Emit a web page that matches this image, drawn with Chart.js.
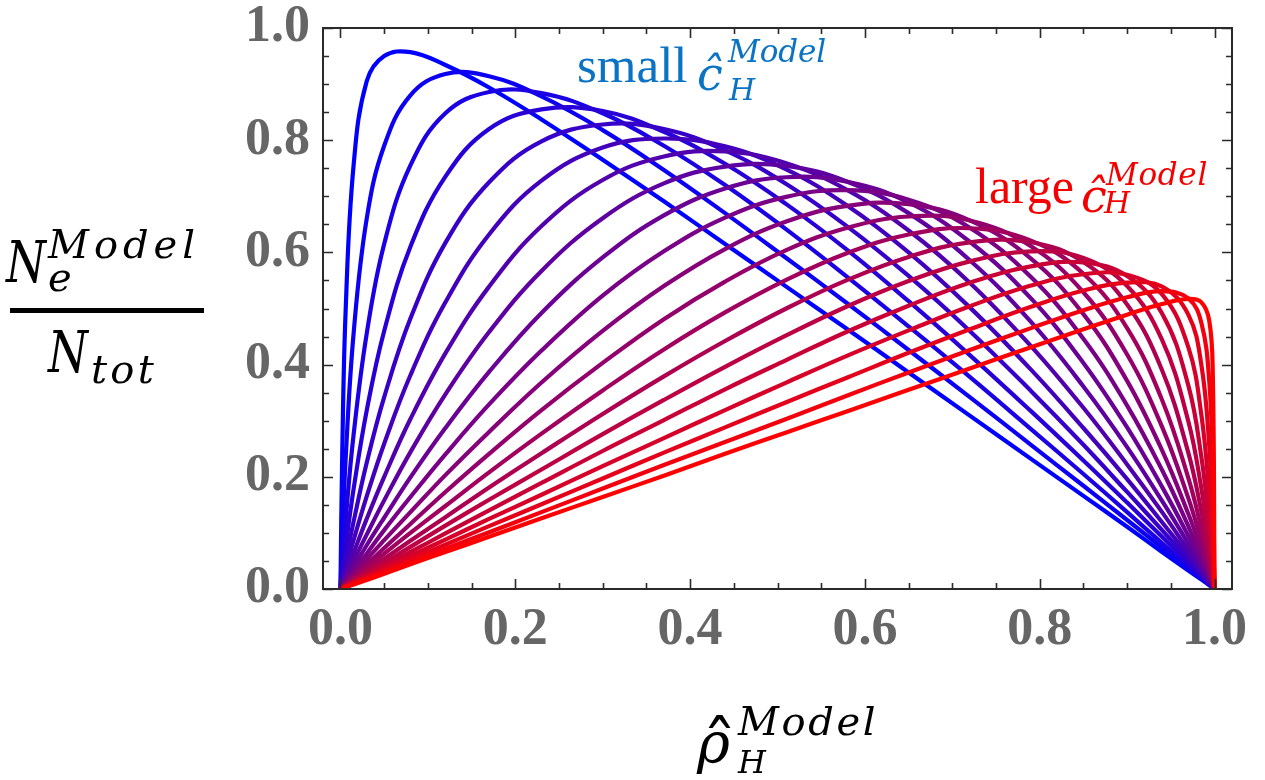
<!DOCTYPE html>
<html><head><meta charset="utf-8">
<script src="https://cdn.jsdelivr.net/npm/chart.js@4.4.1/dist/chart.umd.min.js"></script>
<style>html,body{margin:0;padding:0;background:#fff;overflow:hidden}</style>
</head><body>
<canvas id="c" width="1265" height="780" style="display:block;width:1265px;height:780px"></canvas>
<script>
// x values (rho_H^Model)
const rhoH = [0, 0.002, 0.006, 0.015, 0.03, 0.05, 0.08, 0.12, 0.17, 0.23, 0.3, 0.37, 0.44, 0.51, 0.58, 0.65, 0.72, 0.79, 0.85, 0.9, 0.94, 0.97, 0.985, 0.994, 0.998, 1];
// N_e^Model / N_tot, one array per c_H^Model value (small -> large)
const ne01 = [0, 0.240, 0.500, 0.755, 0.905, 0.950, 0.957, 0.934, 0.894, 0.837, 0.765, 0.691, 0.615, 0.539, 0.463, 0.386, 0.309, 0.232, 0.166, 0.111, 0.066, 0.033, 0.017, 0.007, 0.002, 0];
const ne02 = [0, 0.090, 0.235, 0.455, 0.660, 0.790, 0.880, 0.918, 0.914, 0.878, 0.818, 0.747, 0.670, 0.590, 0.509, 0.426, 0.342, 0.257, 0.184, 0.123, 0.074, 0.037, 0.018, 0.007, 0.002, 0];
const ne03 = [0, 0.045, 0.125, 0.275, 0.455, 0.615, 0.755, 0.848, 0.886, 0.884, 0.848, 0.790, 0.720, 0.641, 0.556, 0.468, 0.378, 0.285, 0.205, 0.137, 0.082, 0.041, 0.021, 0.008, 0.003, 0];
const ne04 = [0, 0.027, 0.077, 0.178, 0.318, 0.460, 0.610, 0.735, 0.820, 0.855, 0.852, 0.815, 0.758, 0.686, 0.604, 0.513, 0.417, 0.317, 0.229, 0.154, 0.093, 0.047, 0.023, 0.009, 0.003, 0];
const ne05 = [0, 0.017, 0.051, 0.120, 0.225, 0.342, 0.482, 0.617, 0.725, 0.798, 0.828, 0.820, 0.782, 0.722, 0.646, 0.558, 0.460, 0.353, 0.257, 0.173, 0.105, 0.053, 0.026, 0.011, 0.004, 0];
const ne06 = [0, 0.012, 0.036, 0.087, 0.165, 0.259, 0.381, 0.511, 0.632, 0.728, 0.787, 0.803, 0.789, 0.748, 0.683, 0.600, 0.502, 0.391, 0.287, 0.196, 0.119, 0.060, 0.030, 0.012, 0.004, 0];
const ne07 = [0, 0.009, 0.026, 0.064, 0.125, 0.200, 0.303, 0.420, 0.539, 0.647, 0.729, 0.771, 0.780, 0.759, 0.711, 0.639, 0.546, 0.433, 0.323, 0.222, 0.137, 0.069, 0.035, 0.014, 0.005, 0];
const ne08 = [0, 0.007, 0.020, 0.050, 0.097, 0.158, 0.244, 0.347, 0.458, 0.567, 0.661, 0.723, 0.753, 0.754, 0.726, 0.670, 0.586, 0.476, 0.361, 0.253, 0.157, 0.081, 0.041, 0.016, 0.006, 0];
const ne09 = [0, 0.005, 0.016, 0.039, 0.078, 0.127, 0.199, 0.287, 0.387, 0.492, 0.591, 0.666, 0.714, 0.734, 0.726, 0.689, 0.619, 0.518, 0.403, 0.288, 0.182, 0.095, 0.048, 0.019, 0.007, 0];
const ne10 = [0, 0.004, 0.013, 0.032, 0.063, 0.105, 0.164, 0.240, 0.329, 0.425, 0.523, 0.602, 0.662, 0.699, 0.711, 0.694, 0.644, 0.556, 0.446, 0.327, 0.212, 0.112, 0.057, 0.023, 0.008, 0];
const ne11 = [0, 0.004, 0.011, 0.026, 0.053, 0.087, 0.137, 0.203, 0.280, 0.368, 0.460, 0.540, 0.606, 0.655, 0.683, 0.686, 0.657, 0.589, 0.490, 0.371, 0.247, 0.134, 0.070, 0.029, 0.010, 0];
const ne12 = [0, 0.003, 0.009, 0.022, 0.044, 0.073, 0.116, 0.173, 0.241, 0.319, 0.403, 0.481, 0.548, 0.604, 0.644, 0.664, 0.657, 0.611, 0.529, 0.418, 0.289, 0.162, 0.086, 0.036, 0.012, 0];
const ne13 = [0, 0.003, 0.008, 0.019, 0.038, 0.063, 0.100, 0.148, 0.208, 0.277, 0.354, 0.427, 0.493, 0.551, 0.599, 0.632, 0.643, 0.621, 0.562, 0.465, 0.337, 0.198, 0.108, 0.046, 0.016, 0];
const ne14 = [0, 0.002, 0.007, 0.016, 0.033, 0.054, 0.086, 0.128, 0.181, 0.242, 0.312, 0.379, 0.442, 0.500, 0.551, 0.592, 0.618, 0.618, 0.583, 0.507, 0.390, 0.243, 0.138, 0.060, 0.021, 0];
const ne15 = [0, 0.002, 0.006, 0.014, 0.028, 0.047, 0.075, 0.113, 0.159, 0.213, 0.276, 0.337, 0.396, 0.452, 0.504, 0.549, 0.584, 0.602, 0.590, 0.540, 0.444, 0.299, 0.179, 0.081, 0.029, 0];
const ne16 = [0, 0.002, 0.005, 0.013, 0.025, 0.042, 0.066, 0.099, 0.140, 0.189, 0.246, 0.301, 0.356, 0.408, 0.459, 0.505, 0.546, 0.575, 0.582, 0.558, 0.491, 0.363, 0.235, 0.114, 0.042, 0];
const ne17 = [0, 0.002, 0.004, 0.011, 0.022, 0.037, 0.059, 0.088, 0.125, 0.168, 0.219, 0.269, 0.319, 0.368, 0.416, 0.461, 0.504, 0.541, 0.561, 0.560, 0.525, 0.431, 0.310, 0.167, 0.066, 0];
const ne18 = [0, 0.001, 0.004, 0.010, 0.020, 0.033, 0.053, 0.079, 0.112, 0.151, 0.197, 0.243, 0.288, 0.333, 0.377, 0.421, 0.463, 0.503, 0.532, 0.546, 0.539, 0.489, 0.399, 0.254, 0.114, 0];
const ne19 = [0, 0.001, 0.004, 0.009, 0.018, 0.030, 0.048, 0.072, 0.101, 0.137, 0.179, 0.221, 0.262, 0.303, 0.345, 0.386, 0.426, 0.465, 0.497, 0.520, 0.531, 0.518, 0.474, 0.370, 0.211, 0];
const ne20 = [0, 0.001, 0.003, 0.008, 0.016, 0.027, 0.044, 0.066, 0.093, 0.126, 0.164, 0.202, 0.241, 0.279, 0.317, 0.355, 0.393, 0.431, 0.463, 0.489, 0.508, 0.517, 0.511, 0.478, 0.386, 0];
const xTickValues = [0, 0.2, 0.4, 0.6, 0.8, 1.0];
const yTickValues = [0, 0.2, 0.4, 0.6, 0.8, 1.0];
const minorStep = 0.05;

const curveValues = [ne01, ne02, ne03, ne04, ne05, ne06, ne07, ne08, ne09, ne10,
                     ne11, ne12, ne13, ne14, ne15, ne16, ne17, ne18, ne19, ne20];
const N = curveValues.length;
function blend(t) { return 'rgb(' + Math.round(255 * t) + ',0,' + Math.round(255 * (1 - t)) + ')'; }

const datasets = curveValues.map((ys, i) => ({
  data: ys.map((y, j) => ({ x: rhoH[j], y: y })),
  borderColor: blend(i / (N - 1)),
  borderWidth: 4.2,
  pointRadius: 0,
  fill: false,
  tension: 0.4,
  order: N - 1 - i
}));

function txt(ctx, s, x, y, font, color, targetW, sx) {
  ctx.save();
  ctx.font = font; ctx.fillStyle = color; ctx.textAlign = 'left'; ctx.textBaseline = 'alphabetic';
  ctx.letterSpacing = '0px';
  if (targetW) {
    const w = ctx.measureText(s).width;
    ctx.letterSpacing = ((targetW - w) / s.length) + 'px';
  }
  ctx.translate(x, y);
  if (sx) ctx.scale(sx, 1);
  ctx.fillText(s, 0, 0);
  ctx.restore();
}

const framePlugin = {
  id: 'frame',
  afterDatasetsDraw(chart) {
    const ctx = chart.ctx, a = chart.chartArea, xs = chart.scales.x, ys = chart.scales.y;
    ctx.save();
    ctx.strokeStyle = '#2a2a2a'; ctx.lineWidth = 2;
    ctx.strokeRect(a.left, a.top, a.right - a.left, a.bottom - a.top);
    ctx.lineWidth = 1.6;
    ctx.beginPath();
    for (let k = 0; k <= 20; k++) {
      const v = k * minorStep;
      const major = (k % 4 === 0);
      const len = major ? 10 : 6;
      const px = Math.round(xs.getPixelForValue(v)) + 0.5;
      ctx.moveTo(px, a.bottom); ctx.lineTo(px, a.bottom - len);
      ctx.moveTo(px, a.top); ctx.lineTo(px, a.top + len);
      const py = Math.round(ys.getPixelForValue(v)) + 0.5;
      ctx.moveTo(a.left, py); ctx.lineTo(a.left + len, py);
      ctx.moveTo(a.right, py); ctx.lineTo(a.right - len, py);
    }
    ctx.stroke();
    ctx.restore();
  }
};

const titlePlugin = {
  id: 'titles',
  afterDraw(chart) {
    const ctx = chart.ctx;
    const M = '"DejaVu Serif", serif';
    // y-axis title: N_e^Model / N_tot
    txt(ctx, 'N', 6, 282, 'italic 57px ' + M, '#000', 0, 0.8);
    txt(ctx, 'Model', 48, 258, 'italic 40px ' + M, '#000', 152);
    txt(ctx, 'e', 48, 291, 'italic 40px ' + M, '#000');
    ctx.fillStyle = '#000';
    ctx.fillRect(10, 308, 194, 5);
    txt(ctx, 'N', 48, 372, 'italic 57px ' + M, '#000', 0, 0.8);
    txt(ctx, 'tot', 91, 383, 'italic 40px ' + M, '#000', 66);
    // x-axis title: rho-hat_H^Model
    txt(ctx, '\u03C1', 697, 762, 'italic 56px ' + M, '#000');
    txt(ctx, '\u02C6', 702, 771, '70px ' + M, '#000');
    txt(ctx, 'Model', 738, 735, 'italic 40px ' + M, '#000', 140);
    txt(ctx, 'H', 738, 773, 'italic 32px ' + M, '#000');
    // annotations
    const blue = 'rgb(10,115,195)';
    txt(ctx, 'small', 577, 82, '51px "Liberation Serif", serif', blue);
    txt(ctx, '\u0109', 697, 90, 'italic 46px ' + M, blue);
    txt(ctx, 'Model', 728, 62, 'italic 31px ' + M, blue, 98);
    txt(ctx, 'H', 729, 100, 'italic 30px ' + M, blue);
    const red = 'rgb(245,0,0)';
    txt(ctx, 'large', 975, 203, '50px "Liberation Serif", serif', red);
    txt(ctx, '\u0109', 1081, 212, 'italic 46px ' + M, red);
    txt(ctx, 'Model', 1106, 185, 'italic 31px ' + M, red, 102);
    txt(ctx, 'H', 1104, 213, 'italic 30px ' + M, red);
  }
};

const xTickFont = { family: '"Liberation Serif", serif', weight: 'bold', size: 52, lineHeight: 1 };
const yTickFont = { family: '"Liberation Serif", serif', weight: 'bold', size: 52, lineHeight: 0.5 };

new Chart(document.getElementById('c'), {
  type: 'line',
  data: { datasets: datasets },
  options: {
    responsive: false,
    animation: false,
    devicePixelRatio: 1,
    layout: { padding: { left: 0, right: 33, top: 28, bottom: 0 } },
    plugins: { legend: { display: false }, tooltip: { enabled: false }, title: { display: false } },
    scales: {
      x: {
        type: 'linear', min: -0.02, max: 1.02,
        afterBuildTicks: s => { s.ticks = xTickValues.map(v => ({ value: v })); },
        afterFit: s => { s.height = 191; },
        ticks: { callback: v => Number(v).toFixed(1), font: xTickFont, color: '#666', padding: 16, maxRotation: 0, autoSkip: false },
        grid: { display: false, drawTicks: false },
        border: { display: false }
      },
      y: {
        type: 'linear', min: 0, max: 1,
        afterBuildTicks: s => { s.ticks = yTickValues.map(v => ({ value: v })); },
        afterFit: s => { s.width = 323; },
        ticks: { callback: v => Number(v).toFixed(1), font: yTickFont, color: '#666', padding: 13, autoSkip: false },
        grid: { display: false, drawTicks: false },
        border: { display: false }
      }
    }
  },
  plugins: [framePlugin, titlePlugin]
});
</script>
</body></html>
